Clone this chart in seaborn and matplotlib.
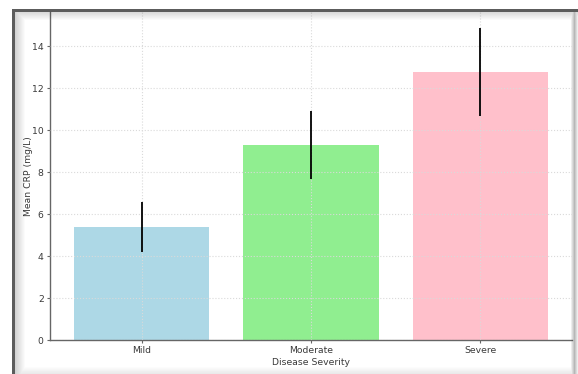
import numpy as np
import pandas as pd
import matplotlib
matplotlib.use("Agg")
import matplotlib.pyplot as plt
import seaborn as sns

# data
severity = ["Mild", "Moderate", "Severe"]
mean_crp = [5.4, 9.3, 12.8]
sd_crp = [1.2, 1.6, 2.1]
bar_colors = ["#ADD8E6", "#90EE90", "#FFC0CB"]

W, H = 578, 374

sns.set_theme(style="whitegrid")
plt.rcParams.update({
    'font.family': ['DejaVu Sans'],
    'font.size': 6.7,
    'axes.labelsize': 6.7,
    'xtick.labelsize': 6.7,
    'ytick.labelsize': 6.7,
    'text.color': '#3a3a3a',
    'axes.labelcolor': '#3a3a3a',
    'xtick.color': '#3a3a3a',
    'ytick.color': '#3a3a3a',
})

df = pd.DataFrame({"severity": severity, "crp": mean_crp})

fig = plt.figure(figsize=(W / 100, H / 100), dpi=100)
fig.patch.set_facecolor("white")
ax = fig.add_axes([50 / W, (H - 340) / H, (572 - 50) / W, (340 - 12) / H])

sns.barplot(data=df, x="severity", y="crp", hue="severity", palette=bar_colors,
            saturation=1, errorbar=None, width=0.8, linewidth=0, legend=False, ax=ax)
ax.errorbar(np.arange(len(severity)), mean_crp, yerr=sd_crp, fmt="none",
            ecolor="black", elinewidth=1.3, capsize=0, zorder=5)

ax.set_xlim(-0.54, 2.54)
ax.set_xlabel("Disease Severity", labelpad=2)
ax.set_ylabel("Mean CRP (mg/L)", labelpad=-1)

ax.set_axisbelow(False)
ax.grid(True, color="#dadada", linestyle=":", linewidth=0.8)
for side in ["top", "right"]:
    ax.spines[side].set_visible(False)
for side in ["left", "bottom"]:
    ax.spines[side].set_color("#666666")
    ax.spines[side].set_linewidth(1.0)
ax.tick_params(axis="both", length=2.5, width=0.8, pad=2, color="#666666",
               left=True, bottom=True)

# screenshot frame: dark top/left edge with soft shadow, grey shadow right/bottom
ov = fig.add_axes([0, 0, 1, 1], zorder=10)
ov.set_xlim(0, W)
ov.set_ylim(H, 0)
ov.axis("off")
rgba = np.zeros((H, W, 4))
xs = np.arange(W)
ys = np.arange(H)
# left edge
left_a = np.zeros(W)
left_a[12:15] = 0.8
fade = np.clip(1 - (xs - 15) / 10, 0, 1) * 0.22
left_a = np.where(xs >= 15, fade, left_a)
# top edge
top_a = np.zeros(H)
top_a[9:12] = 0.8
fade_t = np.clip(1 - (ys - 12) / 8, 0, 1) * 0.18
top_a = np.where(ys >= 12, fade_t, top_a)
# right shadow
right_a = np.clip(1 - np.abs(xs - 574) / 4, 0, 1) * 0.35
# bottom shadow
bot_a = np.clip((ys - 366) / 8, 0, 1) * 0.12
alpha = np.maximum.reduce([
    np.broadcast_to(left_a[None, :], (H, W)),
    np.broadcast_to(top_a[:, None], (H, W)),
    np.broadcast_to(right_a[None, :], (H, W)),
    np.broadcast_to(bot_a[:, None], (H, W)),
])
alpha[:9, :] = 0
alpha[:, :12] = 0
rgba[..., 0:3] = 0.2
rgba[..., 3] = alpha
ov.imshow(rgba, extent=(0, W, H, 0), interpolation="nearest", aspect="auto")

fig.savefig("out.png", dpi=100)
